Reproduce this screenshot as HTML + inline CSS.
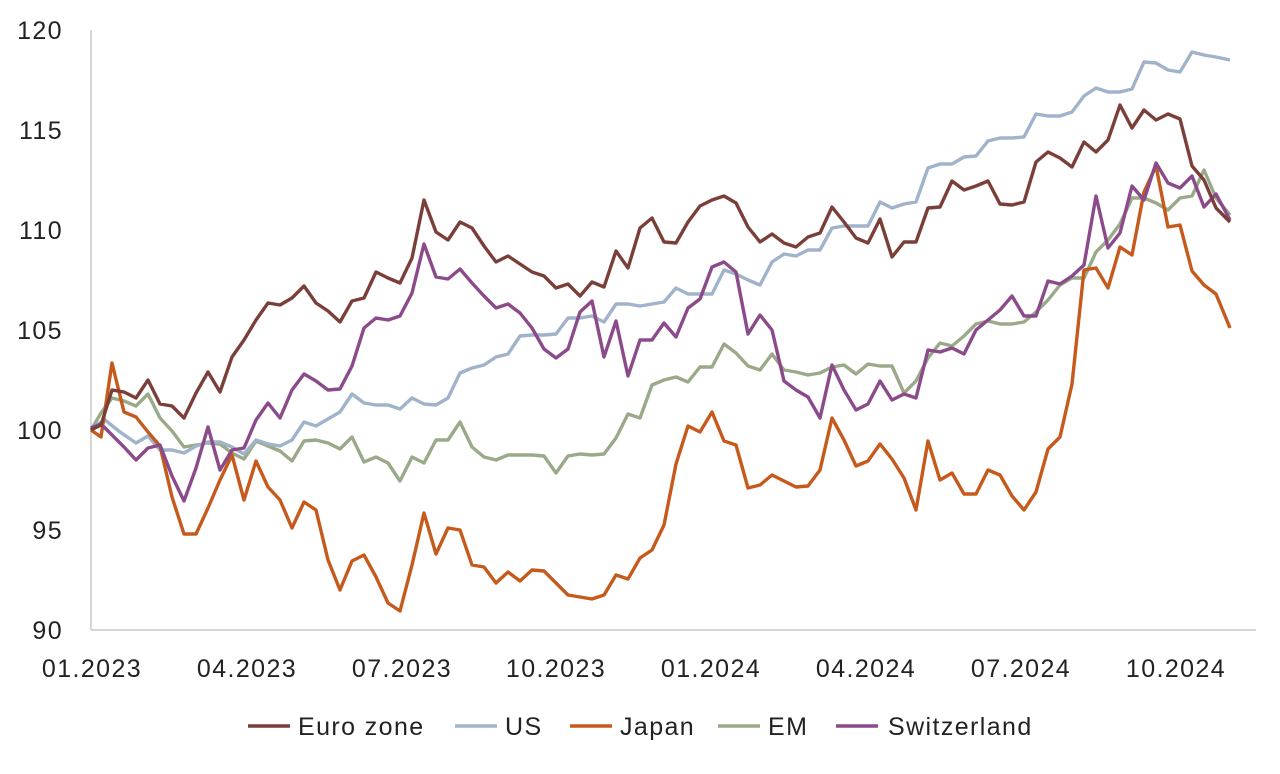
<!DOCTYPE html>
<html><head><meta charset="utf-8"><style>
html,body{margin:0;padding:0;background:#fff;}
svg text{font-family:"Liberation Sans",sans-serif;fill:#222;font-size:25px;letter-spacing:1.4px;}
</style></head><body>
<svg width="1280" height="769" viewBox="0 0 1280 769" xmlns="http://www.w3.org/2000/svg">
<g stroke="#c8c8c8" stroke-width="1.5">
<line x1="91" y1="30" x2="91" y2="630"/>
<line x1="91" y1="630" x2="1256" y2="630"/>
</g>
<g text-anchor="end">
<text x="63" y="39">120</text><text x="63" y="139">115</text><text x="63" y="239">110</text>
<text x="63" y="339">105</text><text x="63" y="439">100</text><text x="63" y="539">95</text><text x="63" y="639">90</text>
</g>
<g text-anchor="middle">
<text x="92" y="677">01.2023</text><text x="247" y="677">04.2023</text><text x="402" y="677">07.2023</text>
<text x="556" y="677">10.2023</text><text x="711" y="677">01.2024</text><text x="866" y="677">04.2024</text>
<text x="1021" y="677">07.2024</text><text x="1176" y="677">10.2024</text>
</g>
<g fill="none" stroke-width="3.4" stroke-linejoin="round">
<polyline stroke="#9aaa88" points="91,430 101,413 112,398 124,401 136,406 148,394 160,418 172,431 184,447 196,445 208,443 220,444 232,453 244,459 256,441 268,446 280,451 292,461 304,441 316,440 328,443 340,449 352,437 364,462 376,457 388,463 400,481 412,457 424,463 436,440 448,440 460,422 472,447 484,457 496,460 508,455 520,455 532,455 544,456 556,473 568,456 580,454 592,455 604,454 616,438 628,414 640,418 652,385 664,380 676,377 688,382 700,367 712,367 724,344 736,353 748,366 760,370 772,354 784,370 796,372 808,375 820,373 832,367 844,365 856,374 868,364 880,366 892,366 904,393 916,381 928,358 940,343 952,346 964,336 976,324 988,321 1000,324 1012,324 1024,322 1036,312 1048,300 1060,285 1072,278 1084,278 1096,252 1108,240 1120,224 1132,198 1144,198 1156,203 1168,210 1180,198 1192,196 1204,170 1216,198 1230,215"/>
<polyline stroke="#a0b3cb" points="91,428 105,420 120,432 136,443 148,436 160,450 172,450 184,453 196,446 208,442 220,442 232,447 244,454 256,440 268,444 280,446 292,440 304,422 316,426 328,419 340,412 352,394 364,403 376,405 388,405 400,409 412,398 424,404 436,405 448,398 460,373 472,368 484,365 496,357 508,354 520,336 532,335 544,335 556,334 568,318 580,318 592,316 604,322 616,304 628,304 640,306 652,304 664,302 676,288 688,294 700,294 712,294 724,270 736,274 748,280 760,285 772,262 784,254 796,256 808,250 820,250 832,228 844,226 856,226 868,226 880,202 892,208 904,204 916,202 928,168 940,164 952,164 964,157 976,156 988,141 1000,138 1012,138 1024,137 1036,114 1048,116 1060,116 1072,112 1084,96 1096,88 1108,92 1120,92 1132,89 1144,62 1156,63 1168,70 1180,72 1192,52 1204,55 1216,57 1230,60"/>
<polyline stroke="#c55a1c" points="91,430 101,437 112,363 124,412 136,417 148,432 160,446 172,497 184,534 196,534 208,508 220,480 232,455 244,500 256,461 268,487 280,500 292,528 304,502 316,510 328,560 340,590 352,561 364,555 376,577 388,603 400,611 412,565 424,513 436,554 448,528 460,530 472,565 484,567 496,583 508,572 520,581 532,570 544,571 556,583 568,595 580,597 592,599 604,595 616,575 628,579 640,558 652,550 664,525 676,464 688,426 700,432 712,412 724,441 736,445 748,488 760,485 772,475 784,481 796,487 808,486 820,470 832,418 844,440 856,466 868,461 880,444 892,459 904,478 916,510 928,441 940,480 952,473 964,494 976,494 988,470 1000,475 1012,496 1024,510 1036,492 1048,449 1060,437 1072,384 1084,270 1096,268 1108,288 1120,247 1132,255 1144,192 1156,166 1168,227 1180,225 1192,271 1204,285 1216,294 1230,328"/>
<polyline stroke="#8b4a8a" points="91,428 101,424 112,435 124,447 136,460 148,448 160,445 172,476 184,501 196,468 208,427 220,470 232,450 244,448 256,420 268,403 280,418 292,390 304,374 316,381 328,390 340,389 352,366 364,328 376,318 388,320 400,316 412,293 424,244 436,277 448,279 460,269 472,283 484,296 496,308 508,304 520,313 532,328 544,349 556,358 568,349 580,312 592,301 604,357 616,321 628,376 640,340 652,340 664,323 676,337 688,308 700,299 712,267 724,262 736,272 748,334 760,315 772,330 784,381 796,390 808,397 820,418 832,365 844,390 856,410 868,404 880,381 892,400 904,394 916,398 928,350 940,352 952,348 964,354 976,330 988,320 1000,310 1012,296 1024,316 1036,316 1048,281 1060,284 1072,276 1084,265 1096,196 1108,248 1120,233 1132,186 1144,200 1156,163 1168,183 1180,188 1192,176 1204,207 1216,194 1230,220"/>
<polyline stroke="#7b3f3a" points="91,430 101,425 112,390 124,392 136,398 148,380 160,404 172,406 184,418 196,393 208,372 220,392 232,357 244,340 256,320 268,303 280,305 292,298 304,286 316,303 328,311 340,322 352,301 364,298 376,272 388,278 400,283 412,258 424,200 436,232 448,240 460,222 472,228 484,246 496,262 508,256 520,264 532,272 544,276 556,288 568,284 580,296 592,282 604,287 616,251 628,268 640,228 652,218 664,242 676,243 688,222 700,206 712,200 724,196 736,203 748,227 760,242 772,234 784,243 796,247 808,237 820,233 832,207 844,222 856,238 868,243 880,219 892,257 904,242 916,242 928,208 940,207 952,181 964,190 976,186 988,181 1000,204 1012,205 1024,202 1036,162 1048,152 1060,158 1072,167 1084,142 1096,152 1108,140 1120,105 1132,128 1144,110 1156,120 1168,114 1180,119 1192,166 1204,180 1216,208 1230,222"/>
</g>
<g stroke-width="3.4">
<line x1="248" y1="726" x2="290" y2="726" stroke="#7b3f3a"/>
<line x1="455" y1="726" x2="497" y2="726" stroke="#a0b3cb"/>
<line x1="570" y1="726" x2="612" y2="726" stroke="#c55a1c"/>
<line x1="718" y1="726" x2="760" y2="726" stroke="#9aaa88"/>
<line x1="836" y1="726" x2="878" y2="726" stroke="#8b4a8a"/>
</g>
<text x="298" y="735">Euro zone</text>
<text x="505" y="735">US</text>
<text x="620" y="735">Japan</text>
<text x="768" y="735">EM</text>
<text x="888" y="735">Switzerland</text>
</svg>
</body></html>
